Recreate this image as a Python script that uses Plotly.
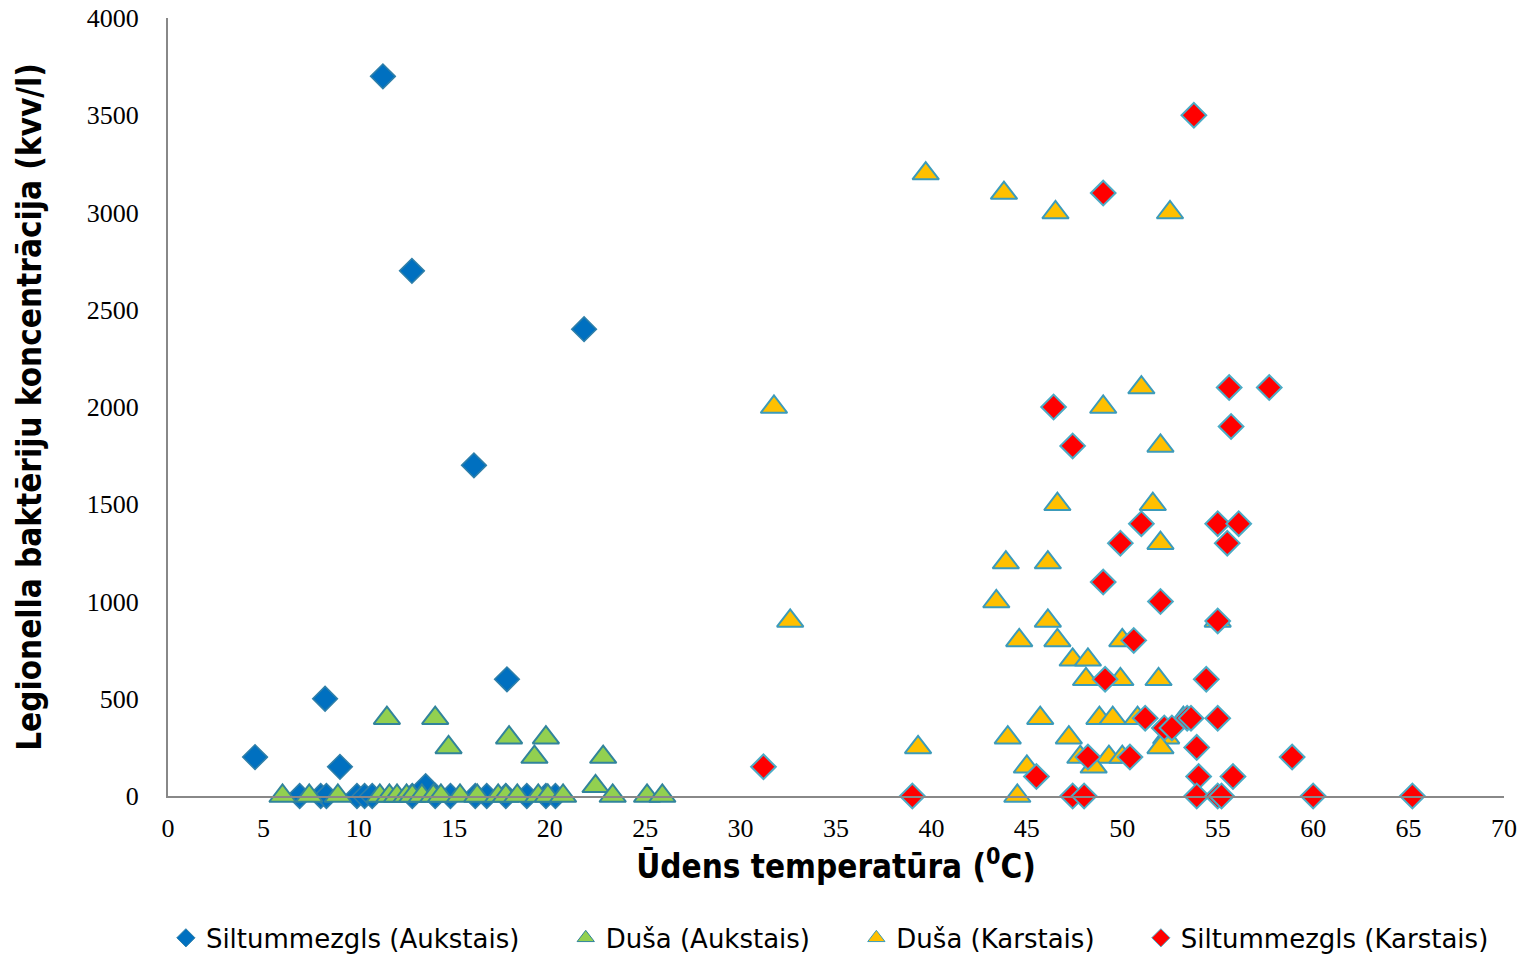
import plotly.graph_objects as go

# Siltummezgls (Aukstais) - blue diamonds
sa_x = [11.26, 12.78, 21.8, 16.03, 17.76, 8.23, 4.56, 9.01,
        6.9, 8.0, 8.3, 9.9, 10.3, 10.7, 12.8, 13.5, 14.0, 14.8, 16.1, 16.7, 17.7, 18.8, 19.8, 20.3]
sa_y = [3700, 2700, 2400, 1700, 600, 500, 200, 150,
        0, 0, 0, 0, 0, 0, 0, 50, 0, 0, 0, 0, 0, 0, 0, 0]

# Duša (Aukstais) - green triangles
da_x = [11.47, 14.0, 14.7, 17.87, 19.8, 19.2, 22.8, 22.4,
        6.0, 7.4, 8.9, 11.1, 11.6, 12.0, 12.5, 12.8, 13.3, 13.9, 14.3, 15.3, 16.2,
        17.3, 17.7, 18.3, 19.4, 19.9, 20.7, 23.3, 25.1, 25.9]
da_y = [400, 400, 250, 300, 300, 200, 200, 50,
        0, 0, 0, 0, 0, 0, 0, 0, 0, 0, 0, 0, 0,
        0, 0, 0, 0, 0, 0, 0, 0, 0]

# Duša (Karstais) - yellow triangles
dk_x = [39.7, 43.8, 46.5, 52.5, 31.75, 49.0, 51.0, 52.0, 46.6, 51.6, 52.0,
        43.9, 46.1, 43.4, 32.6, 46.1, 55.0, 44.6, 46.6, 50.0, 47.4, 48.2,
        48.1, 49.9, 51.9, 45.7, 48.8, 49.5, 50.8, 53.2, 39.3, 44.0, 47.2,
        47.8, 49.3, 50.0, 52.3, 52.0, 45.0, 48.5, 44.5]
dk_y = [3200, 3100, 3000, 3000, 2000, 2000, 2100, 1800, 1500, 1500, 1300,
        1200, 1200, 1000, 900, 900, 900, 800, 800, 800, 700, 700,
        600, 600, 600, 400, 400, 400, 400, 400, 250, 300, 300,
        200, 200, 200, 300, 250, 150, 150, 0]

# Siltummezgls (Karstais) - red diamonds
sk_x = [53.75, 49.0, 55.6, 57.7, 46.4, 47.4, 55.7, 51.0, 55.0, 56.1, 49.9,
        55.5, 49.0, 52.0, 55.0, 50.6, 49.1, 54.4, 51.2, 53.4, 53.6, 55.0,
        52.2, 52.6, 53.9, 48.2, 50.4, 58.9, 31.2, 45.5, 54.0, 55.8,
        39.0, 47.4, 48.0, 53.9, 55.0, 55.2, 60.0, 65.2]
sk_y = [3500, 3100, 2100, 2100, 2000, 1800, 1900, 1400, 1400, 1400, 1300,
        1300, 1100, 1000, 900, 800, 600, 600, 400, 400, 400, 400,
        350, 350, 250, 200, 200, 200, 150, 100, 100, 100,
        0, 0, 0, 0, 0, 0, 0, 0]

names = ["Siltummezgls (Aukstais)", "Duša (Aukstais)", "Duša (Karstais)", "Siltummezgls (Karstais)"]
x_ticks = list(range(0, 71, 5))
y_ticks = list(range(0, 4001, 500))

styles = [
    dict(symbol="diamond", color="#0070C0", line=dict(color="#2F7FA8", width=1.5)),
    dict(symbol="triangle-up", color="#92D050", line=dict(color="#31849B", width=2)),
    dict(symbol="triangle-up", color="#FFC000", line=dict(color="#3C9BBA", width=2)),
    dict(symbol="diamond", color="#FF0000", line=dict(color="#4BACC6", width=2)),
]
sizes = [19, 23, 23, 19]
leg_sizes = [14, 15, 15, 14]
pads = [5, 5, 5, 0]
data = [(sa_x, sa_y), (da_x, da_y), (dk_x, dk_y), (sk_x, sk_y)]

fig = go.Figure()
for (xs, ys), st, s, nm in zip(data, styles, sizes, names):
    fig.add_trace(go.Scatter(x=xs, y=ys, mode="markers", name=nm, showlegend=False,
                             marker=dict(size=s, **st), cliponaxis=False))
for st, s, nm, p in zip(styles, leg_sizes, names, pads):
    m = dict(st)
    m["line"] = dict(color=st["line"]["color"], width=1)
    fig.add_trace(go.Scatter(x=[None], y=[None], mode="markers", name=nm + "\u00a0" * p,
                             marker=dict(size=s, **m)))

title_font = dict(family="DejaVu Sans Condensed, DejaVu Sans", size=33, color="black")
tick_font = dict(family="Liberation Serif, Times New Roman, serif", size=26, color="black")

fig.update_layout(
    width=1522, height=946,
    paper_bgcolor="white", plot_bgcolor="white",
    margin=dict(l=160, r=26, t=10, b=158, autoexpand=False),
    legend=dict(orientation="h", x=0.54, xref="container", xanchor="center",
                y=0.017, yref="container", yanchor="middle",
                font=dict(family="DejaVu Sans, Verdana, sans-serif", size=26, color="black"),
                itemsizing="trace", tracegroupgap=0),
    xaxis=dict(range=[0, 70], tickvals=x_ticks, ticktext=[str(v) for v in x_ticks],
               showgrid=False, zeroline=False, showline=True, linecolor="#888888", linewidth=2,
               ticks="", tickfont=tick_font, ticklabelstandoff=8, automargin=False,
               ticklabeloverflow="allow",
               title=dict(text="<b>Ūdens temperatūra (<sup>0</sup>C)</b>", font=title_font, standoff=10)),
    yaxis=dict(range=[0, 4000], tickvals=y_ticks, ticktext=[str(v) for v in y_ticks],
               showgrid=False, zeroline=False, showline=True, linecolor="#888888", linewidth=2,
               ticks="", tickfont=tick_font, ticklabelstandoff=22, automargin=False,
               ticklabeloverflow="allow",
               title=dict(text="<b>Legionella baktēriju koncentrācija (kvv/l)</b>", font=title_font, standoff=35)),
)

fig.write_html("out.html")
